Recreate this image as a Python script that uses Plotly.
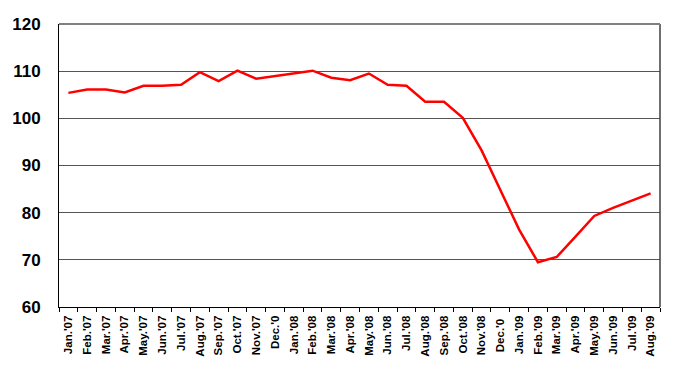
import plotly.graph_objects as go

months = ["Jan.'07", "Feb.'07", "Mar.'07", "Apr.'07", "May.'07", "Jun.'07", "Jul.'07", "Aug.'07",
          "Sep.'07", "Oct.'07", "Nov.'07", "Dec.'0", "Jan.'08", "Feb.'08", "Mar.'08", "Apr.'08",
          "May.'08", "Jun.'08", "Jul.'08", "Aug.'08", "Sep.'08", "Oct.'08", "Nov.'08", "Dec.'0 ",
          "Jan.'09", "Feb.'09", "Mar.'09", "Apr.'09", "May.'09", "Jun.'09", "Jul.'09", "Aug.'09"]
values = [105.4, 106.1, 106.1, 105.5, 106.9, 106.9, 107.1, 109.8,
          107.9, 110.1, 108.4, 109.0, 109.5, 110.1, 108.6, 108.1,
          109.5, 107.1, 106.9, 103.5, 103.5, 100.1, 93.2, 84.8,
          76.4, 69.5, 70.6, 74.9, 79.3, 81.0, 82.5, 84.1]
y_ticks = [60, 70, 80, 90, 100, 110, 120]

fig = go.Figure()
fig.add_trace(go.Scatter(x=months, y=values, mode="lines",
                         line=dict(color="#ff0000", width=2.5), showlegend=False))

fig.update_layout(
    width=680, height=374,
    margin=dict(l=51, r=28, t=16, b=75),
    paper_bgcolor="white", plot_bgcolor="white",
    font=dict(family="Liberation Sans, Arial, sans-serif", color="black"),
    xaxis=dict(type="category", range=[-0.5, 31.5], tickson="boundaries",
               ticks="outside", ticklen=4, tickcolor="black", automargin=False,
               tickangle=-90, ticklabelstandoff=3,
               tickfont=dict(size=11.5, family="Liberation Sans, Arial, sans-serif", weight="bold"),
               showgrid=False, showline=True, linecolor="black", linewidth=1,
               mirror=False),
    yaxis=dict(range=[60, 120], tickvals=y_ticks, ticks="", ticklen=0, automargin=False,
               ticklabelstandoff=14,
               tickfont=dict(size=17, family="Liberation Sans, Arial, sans-serif", weight="bold"),
               showgrid=True, gridcolor="#555555", gridwidth=1,
               showline=True, linecolor="black", linewidth=1, zeroline=False),
)
fig.add_shape(type="line", xref="paper", yref="paper", x0=1, x1=1, y0=0, y1=1,
              line=dict(color="#404040", width=1.5))
fig.add_shape(type="line", xref="paper", yref="paper", x0=0, x1=1, y0=1, y1=1,
              line=dict(color="#808080", width=2))

fig.write_html("out.html")
